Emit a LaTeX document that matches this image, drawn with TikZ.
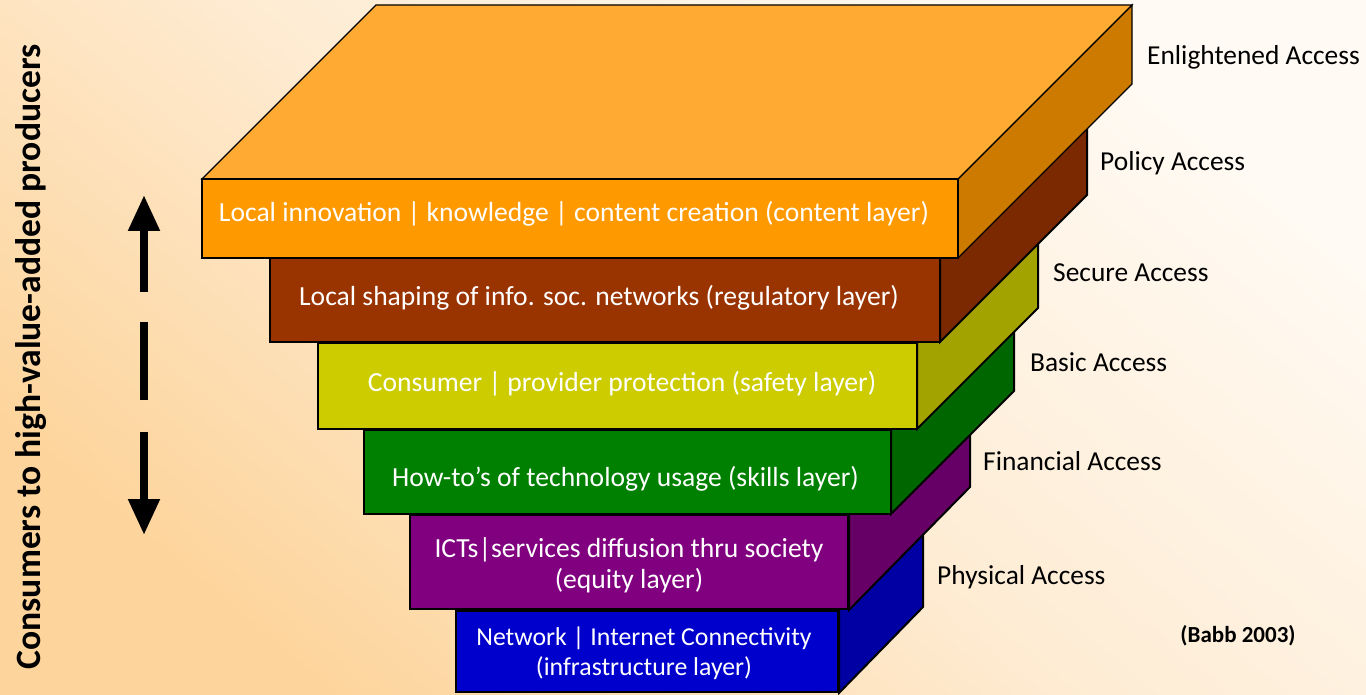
\documentclass[tikz,border=0pt]{standalone}
\usepackage{fontspec}
\setmainfont{Carlito}
\usetikzlibrary{arrows.meta}
\definecolor{bgdark}{RGB}{253,212,155}
\definecolor{bgmid}{RGB}{254,236,212}
\definecolor{bglight}{RGB}{255,250,243}
\pgfdeclarehorizontalshading{bgshade}{100bp}{color(0bp)=(bgdark); color(25bp)=(bgdark); color(50bp)=(bgmid); color(75bp)=(bglight); color(100bp)=(bglight)}
\definecolor{oTop}{RGB}{255,170,51}
\definecolor{oFront}{RGB}{255,153,0}
\definecolor{oSide}{RGB}{204,122,0}
\definecolor{bFront}{RGB}{153,51,0}
\definecolor{bSide}{RGB}{122,41,0}
\definecolor{yFront}{RGB}{204,204,0}
\definecolor{ySide}{RGB}{163,163,0}
\definecolor{gFront}{RGB}{0,128,0}
\definecolor{gSide}{RGB}{0,102,0}
\definecolor{pFront}{RGB}{128,0,128}
\definecolor{pSide}{RGB}{102,0,102}
\definecolor{uFront}{RGB}{0,0,204}
\definecolor{uSide}{RGB}{0,0,163}
\begin{document}
\begin{tikzpicture}[x=1pt,y=-1pt,
  face/.style={draw=black, line width=2pt, line join=miter},
  layerbox/.style={face, inner sep=0pt},
  layertext/.style={inner sep=0pt, text=white, align=center, font=\fontsize{27.6}{30.5}\selectfont},
  acclabel/.style={anchor=base west, inner sep=0pt, font=\fontsize{27.4}{30}\selectfont},
  bigarrow/.style={line width=8pt, -{Triangle[width=30pt,length=36pt]}},
]
\useasboundingbox (0,0) rectangle (1366,695);
\shade[shading=bgshade, shading angle=50] (0,0) rectangle (1366,695);

% blue layer (infrastructure)
\node[layerbox, fill=uFront, minimum width=382pt, minimum height=81pt] (infra) at (647,651.5) {};
\draw[face, fill=uSide] (infra.north east) -- ++(84,-84) -- ++(0,81) -- (infra.south east) -- cycle;
\node[layertext, font=\fontsize{25.8}{30}\selectfont] (infraT) at (644,653) {Network | Internet Connectivity\\(infrastructure layer)};
% purple layer (equity)
\node[layerbox, fill=pFront, minimum width=438pt, minimum height=94pt] (equity) at (629,562) {};
\draw[face, fill=pSide] (equity.north east) -- ++(121,-121) -- ++(0,94) -- (equity.south east) -- cycle;
\node[layertext] (equityT) at (629,565) {ICTs|services diffusion thru society\\(equity layer)};
% green layer (skills)
\draw[face, fill=gSide] (891,430) -- ++(123,-123) -- ++(0,84) -- (891,514) -- cycle;
\node[layerbox, fill=gFront, minimum width=527pt, minimum height=84pt] (skills) at (627.5,472) {};
\node[layertext] (skillsT) at (625.5,479) {How-to’s of technology usage (skills layer)};
% yellow layer (safety)
\draw[face, fill=ySide] (917,343) -- ++(121,-121) -- ++(0,86) -- (917,429) -- cycle;
\node[layerbox, fill=yFront, minimum width=599pt, minimum height=86pt] (safety) at (617.5,386) {};
\node[layertext] (safetyT) at (622,384) {Consumer | provider protection (safety layer)};
% brown layer (regulatory)
\draw[face, fill=bSide] (940,258) -- ++(147,-147) -- ++(0,84) -- (940,342) -- cycle;
\node[layerbox, fill=bFront, minimum width=670pt, minimum height=84pt] (regul) at (605,300) {};
\node[layertext] (regulT) at (599,298) {Local shaping of info. soc. networks (regulatory layer)};
% orange slab (content)
\draw[face, line width=1.4pt, fill=oSide] (958,179) -- ++(174,-174) -- ++(0,79) -- (958,258) -- cycle;
\draw[face, line width=1.4pt, fill=oTop] (202,179) -- ++(174,-174) -- ++(756,0) -- (958,179) -- cycle;
\node[layerbox, line width=1.4pt, fill=oFront, minimum width=756pt, minimum height=79pt] (content) at (580,218.5) {};
\node[layertext] (contentT) at (574,214) {Local innovation | knowledge | content creation (content layer)};

% access labels
\node[acclabel] (enl) at (1147,65) {Enlightened Access};
\node[acclabel] (pol) at (1100,171) {Policy Access};
\node[acclabel] (sec) at (1053,281) {Secure Access};
\node[acclabel] (bas) at (1030,371) {Basic Access};
\node[acclabel] (fin) at (983,470) {Financial Access};
\node[acclabel] (phy) at (937,584) {Physical Access};
\node[anchor=base, inner sep=0pt, font=\bfseries\fontsize{23}{27}\selectfont] (babb) at (1238,642) {(Babb 2003)};

% vertical title
\node[rotate=90, inner sep=0pt, font=\bfseries\fontsize{35.6}{40}\selectfont] (title) at (31,357) {Consumers to high-value-added producers};

% dashed double arrow
\coordinate (atop) at (144,195);
\coordinate (ashaft1) at (144,292);
\coordinate (mid1) at (144,322);
\coordinate (mid2) at (144,400);
\coordinate (ashaft2) at (144,432);
\coordinate (abot) at (144,535);
\draw[bigarrow] (ashaft1) -- (atop);
\draw[line width=8pt] (mid1) -- (mid2);
\draw[bigarrow] (ashaft2) -- (abot);
\end{tikzpicture}
\end{document}
